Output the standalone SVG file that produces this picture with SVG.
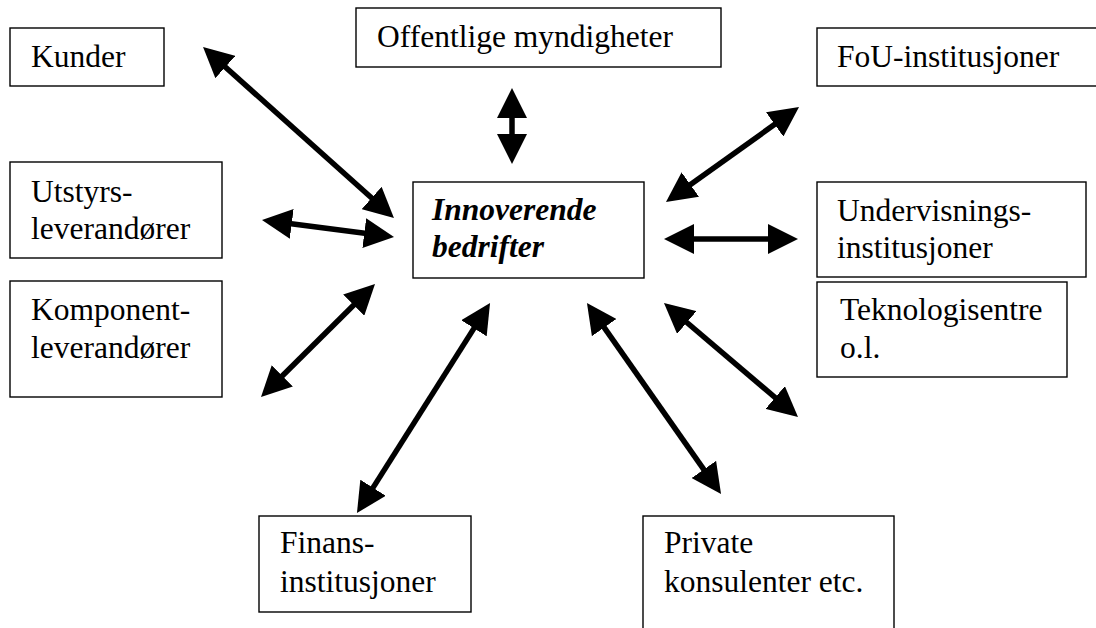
<svg xmlns="http://www.w3.org/2000/svg" width="1096" height="628" viewBox="0 0 1096 628">
<style>
.box{fill:#fff;stroke:#000;stroke-width:1.4}
.t{font-family:"Liberation Serif","Times New Roman",serif;font-size:31.5px;fill:#000}
.bi{font-weight:bold;font-style:italic}
.c{stroke:#000;stroke-width:5.5;fill:none;marker-start:url(#ah);marker-end:url(#ah)}
</style>
<defs>
<marker id="ah" viewBox="0 0 30 30" refX="20" refY="15" markerWidth="30" markerHeight="30" markerUnits="userSpaceOnUse" orient="auto-start-reverse">
<path d="M0,0 L30,15 L0,30 z" fill="#000"/>
</marker>
</defs>
<rect width="1096" height="628" fill="#fff"/>
<g id="kunder"><rect class="box" x="10" y="28" width="154" height="58"/><text class="t" x="31" y="67">Kunder</text></g>
<g id="offentlige"><rect class="box" x="356" y="8" width="365" height="59"/><text class="t" x="377" y="47">Offentlige myndigheter</text></g>
<g id="fou"><rect class="box" x="817" y="28" width="290" height="58"/><text class="t" x="837" y="67">FoU-institusjoner</text></g>
<g id="utstyrs"><rect class="box" x="10" y="162" width="212" height="96"/><text class="t" x="31" y="202">Utstyrs-</text><text class="t" x="31" y="239">leverandører</text></g>
<g id="innoverende"><rect class="box" x="413" y="182" width="231" height="96"/><text class="t bi" x="432" y="220">Innoverende</text><text class="t bi" x="432" y="257">bedrifter</text></g>
<g id="undervisning"><rect class="box" x="817" y="182" width="269" height="95"/><text class="t" x="837" y="221">Undervisnings-</text><text class="t" x="837" y="258">institusjoner</text></g>
<g id="komponent"><rect class="box" x="10" y="281" width="212" height="116"/><text class="t" x="31" y="320">Komponent-</text><text class="t" x="31" y="358">leverandører</text></g>
<g id="teknologi"><rect class="box" x="817" y="282" width="250" height="95"/><text class="t" x="840" y="320">Teknologisentre</text><text class="t" x="840" y="358">o.l.</text></g>
<g id="finans"><rect class="box" x="259" y="516" width="212" height="96"/><text class="t" x="280" y="553">Finans-</text><text class="t" x="280" y="592">institusjoner</text></g>
<g id="private"><rect class="box" x="643" y="516" width="251" height="130"/><text class="t" x="664" y="553">Private</text><text class="t" x="664" y="592">konsulenter etc.</text></g>
<g id="connectors">
<line class="c" x1="210.5" y1="53.7" x2="386.5" y2="211.3"/>
<line class="c" x1="512" y1="98" x2="512" y2="154"/>
<line class="c" x1="674.1" y1="196.2" x2="790.9" y2="112.8"/>
<line class="c" x1="271.9" y1="221.3" x2="384.1" y2="235.7"/>
<line class="c" x1="674" y1="239" x2="788" y2="239"/>
<line class="c" x1="367.9" y1="291" x2="268.1" y2="390"/>
<line class="c" x1="484.7" y1="311.4" x2="362.3" y2="504.6"/>
<line class="c" x1="592.7" y1="311.2" x2="715.3" y2="485.8"/>
<line class="c" x1="671.6" y1="309.5" x2="790.4" y2="410.5"/>
</g>
</svg>
